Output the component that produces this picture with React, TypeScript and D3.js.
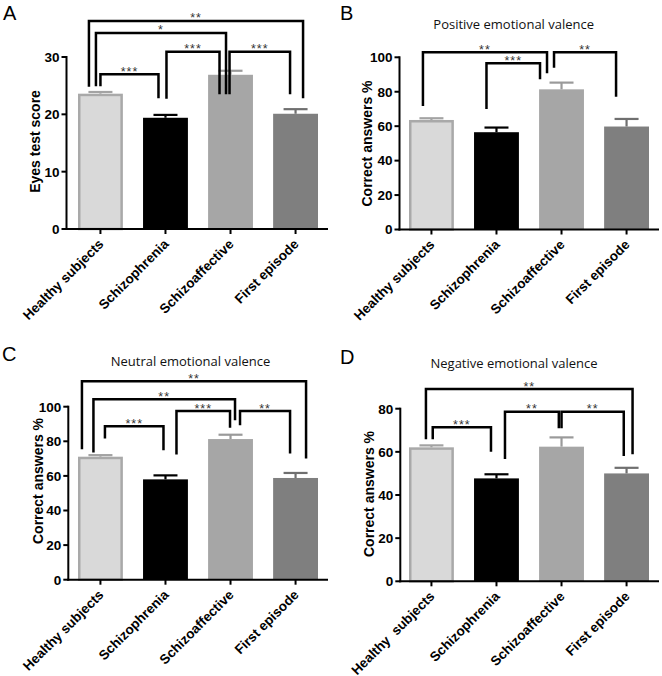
import React from 'react';
import * as d3 from 'd3';

const categories = ['Healthy subjects', 'Schizophrenia', 'Schizoaffective', 'First episode'];
const categoriesD = ['Healthy  subjects', 'Schizophrenia', 'Schizoaffective', 'First episode'];

const meansA = [23.6, 19.4, 26.9, 20.1];
const errA = [0.3, 0.5, 0.7, 0.8];
const meansB = [63.6, 56.5, 81.4, 59.8];
const errB = [1.0, 2.7, 3.9, 4.4];
const meansC = [71.1, 58.0, 81.3, 58.8];
const errC = [0.9, 2.3, 2.5, 2.9];
const meansD = [62.1, 47.7, 62.4, 50.0];
const errD = [0.9, 1.9, 4.3, 2.6];

const ticksA = [0, 10, 20, 30];
const ticksB = [0, 20, 40, 60, 80, 100];
const ticksC = [0, 20, 40, 60, 80, 100];
const ticksD = [0, 20, 40, 60, 80];

type Bracket = { a: number; b: number; y: number; ya: number; yb: number; da: number; db: number; label: string };

const bracketsA: Bracket[] = [
  { a: 0, b: 1, y: 27.0, ya: 24.9, yb: 22.8, da: 0, db: -7, label: '***' },
  { a: 1, b: 2, y: 30.9, ya: 22.7, yb: 23.5, da: 1, db: -11, label: '***' },
  { a: 2, b: 3, y: 30.9, ya: 23.5, yb: 23.5, da: -1, db: -5.5, label: '***' },
  { a: 0, b: 2, y: 34.2, ya: 24.9, yb: 23.5, da: -4.5, db: -4.5, label: '*' },
  { a: 0, b: 3, y: 36.3, ya: 24.8, yb: 22.8, da: -11.5, db: 7.5, label: '**' },
];
const bracketsB: Bracket[] = [
  { a: 0, b: 2, y: 102.9, ya: 71.7, yb: 90.7, da: -8.5, db: -14.5, label: '**' },
  { a: 1, b: 2, y: 96.5, ya: 70.0, yb: 87.2, da: -10, db: -21.5, label: '***' },
  { a: 2, b: 3, y: 102.9, ya: 94.0, yb: 77.1, da: -7.5, db: -10.5, label: '**' },
];
const bracketsC: Bracket[] = [
  { a: 0, b: 3, y: 114.7, ya: 75.4, yb: 70.0, da: -18.5, db: 10.5, label: '**' },
  { a: 0, b: 2, y: 104.3, ya: 73.5, yb: 92.2, da: -7, db: 4.5, label: '**' },
  { a: 0, b: 1, y: 88.7, ya: 81.6, yb: 74.8, da: 4.5, db: -2, label: '***' },
  { a: 1, b: 2, y: 97.5, ya: 72.4, yb: 87.9, da: 11, db: -0.5, label: '***' },
  { a: 2, b: 3, y: 97.5, ya: 89.3, yb: 72.9, da: 9.5, db: -5.5, label: '**' },
];
const bracketsD: Bracket[] = [
  { a: 0, b: 3, y: 89.1, ya: 65.8, yb: 58.9, da: -5.5, db: 6, label: '**' },
  { a: 0, b: 1, y: 71.4, ya: 65.8, yb: 60.1, da: 1.3, db: -5.5, label: '***' },
  { a: 1, b: 2, y: 78.6, ya: 56.7, yb: 70.9, da: 8.5, db: -2.7, label: '**' },
  { a: 2, b: 3, y: 78.6, ya: 70.9, yb: 58.1, da: 0, db: -2.8, label: '**' },
];

const barFill = ['#d9d9d9', '#000000', '#a6a6a6', '#7f7f7f'];
const errColor = ['#a3a3a3', '#000000', '#9a9a9a', '#6f6f6f'];

const BOLD = '"Liberation Sans", Arial, Helvetica, sans-serif';
const LIGHT = '"Open Sans", "Noto Sans", sans-serif';

type PanelCfg = {
  letter: string; lx: number; ly: number;
  ox: number; axisX: number; y0: number; yTopPx: number; yMax: number; ticks: number[];
  cats: string[]; means: number[]; errs: number[]; brackets: Bracket[];
  title?: string; titleX?: number; titleY?: number;
  yLabel: string; yLabelX: number; yLabelY: number;
};

const panels: PanelCfg[] = [
  { letter: 'A', lx: 3, ly: 20, ox: 0, axisX: 66.5, y0: 229, yTopPx: 57, yMax: 30, ticks: ticksA,
    cats: categories, means: meansA, errs: errA, brackets: bracketsA,
    yLabel: 'Eyes test score', yLabelX: 40, yLabelY: 141.5 },
  { letter: 'B', lx: 340, ly: 20, ox: 331, axisX: 399.5, y0: 229.5, yTopPx: 57.3, yMax: 100, ticks: ticksB,
    cats: categories, means: meansB, errs: errB, brackets: bracketsB,
    title: 'Positive emotional valence', titleX: 513.7, titleY: 29,
    yLabel: 'Correct answers %', yLabelX: 372, yLabelY: 143.5 },
  { letter: 'C', lx: 2, ly: 361, ox: 0, axisX: 68.3, y0: 579.7, yTopPx: 406.7, yMax: 100, ticks: ticksC,
    cats: categories, means: meansC, errs: errC, brackets: bracketsC,
    title: 'Neutral emotional valence', titleX: 190.5, titleY: 366,
    yLabel: 'Correct answers %', yLabelX: 43, yLabelY: 481 },
  { letter: 'D', lx: 340, ly: 364, ox: 331, axisX: 400.3, y0: 581.3, yTopPx: 408.7, yMax: 80, ticks: ticksD,
    cats: categoriesD, means: meansD, errs: errD, brackets: bracketsD,
    title: 'Negative emotional valence', titleX: 514, titleY: 367.5,
    yLabel: 'Correct answers %', yLabelX: 373.5, yLabelY: 494 },
];

function Panel({ p }: { p: PanelCfg }) {
  const y = d3.scaleLinear().domain([0, p.yMax]).range([p.y0, p.yTopPx]);
  const x = d3.scaleBand<number>().domain([0, 1, 2, 3]).range([p.ox + 78, p.ox + 318]).paddingInner(0.31).paddingOuter(0);
  const bw = x.bandwidth();
  const cx = (i: number) => (x(i) as number) + bw / 2;
  const xEnd = p.ox + 328;
  return (
    <g>
      <text x={p.lx} y={p.ly} fontFamily={BOLD} fontSize={20} fill="#000">{p.letter}</text>
      {p.title && (
        <text x={p.titleX} y={p.titleY} textAnchor="middle" fontFamily={LIGHT} fontSize={13} fill="#111">{p.title}</text>
      )}
      <text transform={`translate(${p.yLabelX},${p.yLabelY}) rotate(-90)`} textAnchor="middle"
        fontFamily={BOLD} fontWeight="bold" fontSize={14} fill="#000">{p.yLabel}</text>
      {p.means.map((m, i) => {
        const x0 = x(i) as number;
        const top = y(m);
        if (i === 0) {
          return <rect key={i} x={x0 + 1.25} y={top + 1.25} width={bw - 2.5} height={p.y0 - top - 1.25}
            fill={barFill[i]} stroke="#a9a9a9" strokeWidth={2.5} />;
        }
        return <rect key={i} x={x0} y={top} width={bw} height={p.y0 - top} fill={barFill[i]} />;
      })}
      {p.means.map((m, i) => {
        const c = cx(i);
        const top = y(m + p.errs[i]);
        return (
          <g key={'e' + i} stroke={errColor[i]} strokeWidth={2.2}>
            <line x1={c} x2={c} y1={y(m)} y2={top} />
            <line x1={c - 12} x2={c + 12} y1={top} y2={top} />
          </g>
        );
      })}
      <line x1={p.axisX} x2={p.axisX} y1={p.yTopPx - 1} y2={p.y0 + 1} stroke="#000" strokeWidth={2} />
      <line x1={p.axisX - 1} x2={xEnd} y1={p.y0} y2={p.y0} stroke="#000" strokeWidth={2} />
      {p.ticks.map(t => (
        <g key={'t' + t}>
          <line x1={p.axisX - 5} x2={p.axisX} y1={y(t)} y2={y(t)} stroke="#000" strokeWidth={2} />
          <text x={p.axisX - 7} y={y(t)} dy="0.36em" textAnchor="end" fontFamily={BOLD} fontWeight="bold" fontSize={13.5} fill="#000">{t}</text>
        </g>
      ))}
      {p.cats.map((c, i) => (
        <g key={'c' + i}>
          <line x1={cx(i)} x2={cx(i)} y1={p.y0} y2={p.y0 + 5} stroke="#000" strokeWidth={2} />
          <text transform={`translate(${cx(i) + 4},${p.y0 + 16}) rotate(-45)`} textAnchor="end"
            fontFamily={BOLD} fontWeight="bold" fontSize={13.5} fill="#000" style={{ whiteSpace: 'pre' }}>{c}</text>
        </g>
      ))}
      {p.brackets.map((b, k) => {
        const xa = cx(b.a) + b.da;
        const xb = cx(b.b) + b.db;
        const yy = y(b.y);
        return (
          <g key={'b' + k}>
            <path d={`M${xa},${y(b.ya)}V${yy}H${xb}V${y(b.yb)}`} fill="none" stroke="#000" strokeWidth={2.5} />
            <text x={(xa + xb) / 2} y={yy + 1.5} textAnchor="middle" fontFamily={BOLD} fontSize={12.5}
              letterSpacing={1} fill="#333">{b.label}</text>
          </g>
        );
      })}
    </g>
  );
}

export default function App() {
  return (
    <svg width={662} height={676} viewBox="0 0 662 676"
      style={{ position: 'absolute', left: 0, top: 0, background: '#fff' }}>
      <rect x={0} y={0} width={662} height={676} fill="#fff" />
      {panels.map(p => <Panel key={p.letter} p={p} />)}
    </svg>
  );
}
